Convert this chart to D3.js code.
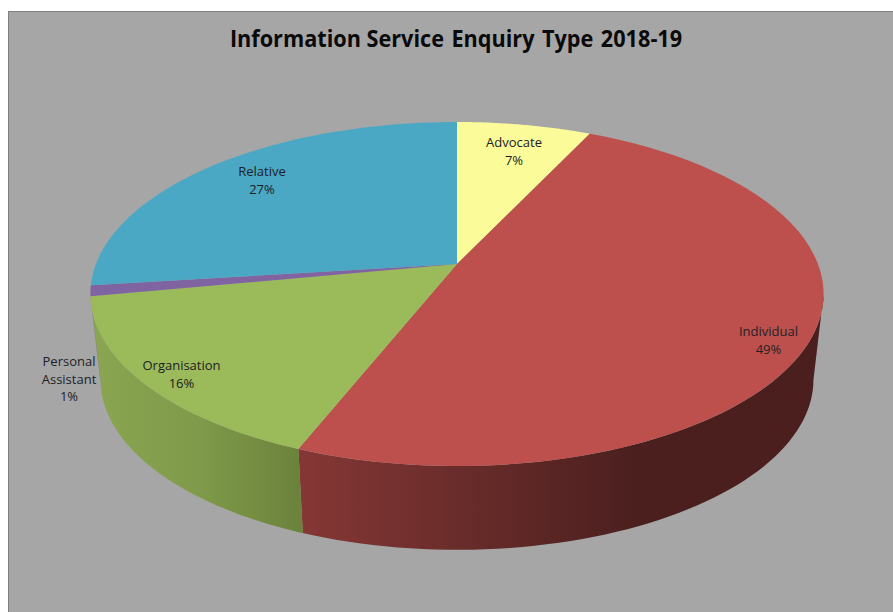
<!DOCTYPE html>
<html>
<head>
<meta charset="utf-8">
<script src="https://cdn.jsdelivr.net/npm/d3@7/dist/d3.min.js"></script>
<style>
  html, body { margin: 0; padding: 0; background: #ffffff; }
  svg { display: block; }
</style>
</head>
<body>
<svg id="chart" width="893" height="612"></svg>
<script>
// Enquiry shares for 2018-19, clockwise from twelve o'clock
const categories = ["Advocate", "Individual", "Organisation", "Personal Assistant", "Relative"];
const shares = [7, 49, 16, 1, 27];
const sliceColors = ["#fbfb99", "#bd504d", "#9bba59", "#8064a2", "#4aa8c4"];
const titleParts = ["Information ", "Service Enquiry Type 2018-19"];
const labelLines = [["Advocate", "7%"], ["Individual", "49%"], ["Organisation", "16%"], ["Personal", "Assistant", "1%"], ["Relative", "27%"]];
const labelAnchors = [[514, 147], [768.5, 336], [181.5, 370], [69, 366], [262, 176]];

const svg = d3.select("#chart");

svg.append("rect")
  .attr("x", 8.5).attr("y", 11.5).attr("width", 890).attr("height", 606)
  .attr("fill", "#a6a6a6").attr("stroke", "#7f7f7f").attr("stroke-width", 1);

// Perspective projection of a tilted disc: the far rim is foreshortened
const centerX = 457;
const tilt = 0.1744;
const topDisc = { y0: 264, a: 361, b: 166.8 };
const baseDisc = { y0: 350, a: 351, b: 165 };
const project = (disc, angle) => {
  const u = Math.sin(angle), v = Math.cos(angle), w = 1 + tilt * v;
  return [centerX + disc.a * u / w, disc.y0 - disc.b * v / w];
};

const pie = d3.pie().sort(null).value(d => d);
const slices = pie(shares);
const line = d3.line();
const rad = Math.PI / 180;
const stepped = (a0, a1) => d3.range(0, 61).map(i => a0 + (a1 - a0) * i / 60);

// Front wall, shaded from left to right
const defs = svg.append("defs");
const addShade = (id, stops) => {
  const g = defs.append("linearGradient").attr("id", id)
    .attr("gradientUnits", "userSpaceOnUse")
    .attr("x1", stops[0][0]).attr("x2", stops[stops.length - 1][0]).attr("y1", 0).attr("y2", 0);
  const span = stops[stops.length - 1][0] - stops[0][0];
  stops.forEach(s => g.append("stop").attr("offset", (s[0] - stops[0][0]) / span).attr("stop-color", s[1]));
};
addShade("wall-individual", [[300, "#853735"], [450, "#6b2d2b"], [640, "#4a1f1e"], [820, "#4a1f1e"]]);
addShade("wall-organisation", [[90, "#8aa651"], [200, "#7f9a4a"], [301, "#6b823b"]]);
const wallFill = { 1: "url(#wall-individual)", 2: "url(#wall-organisation)" };

// The wall is visible between the two rim points where the disc is widest
const wallFrom = Math.acos(-tilt), wallTo = 2 * Math.PI - wallFrom;
slices.forEach((s, i) => {
  const a0 = Math.max(s.startAngle, wallFrom), a1 = Math.min(s.endAngle, wallTo);
  if (a1 <= a0) return;
  const angles = stepped(a0, a1);
  const rim = angles.map(a => project(topDisc, a));
  const base = angles.slice().reverse().map(a => project(baseDisc, a));
  svg.append("path")
    .attr("d", line(rim.concat(base)) + "Z")
    .attr("fill", wallFill[i] || sliceColors[i]);
});

// Top face
slices.forEach((s, i) => {
  const rim = stepped(s.startAngle, s.endAngle).map(a => project(topDisc, a));
  svg.append("path")
    .attr("d", line([[centerX, topDisc.y0]].concat(rim)) + "Z")
    .attr("fill", sliceColors[i]);
});

// Data labels
const font = "'Open Sans', sans-serif";
labelLines.forEach((lines, i) => {
  const text = svg.append("text")
    .attr("text-anchor", "middle")
    .attr("font-family", font).attr("font-size", 13)
    .attr("fill", "#1c2226");
  lines.forEach((t, j) => {
    text.append("tspan").attr("x", labelAnchors[i][0]).attr("y", labelAnchors[i][1] + j * 17.5).text(t);
  });
});

// Title, condensed slightly to fit its measure
const title = svg.append("text")
  .attr("transform", "translate(456,47) scale(0.942,1)")
  .attr("text-anchor", "middle")
  .attr("font-family", font).attr("font-weight", 700).attr("font-size", 23)
  .attr("fill", "#0a0a0a")
  .attr("xml:space", "preserve")
  .style("white-space", "pre");
title.append("tspan").text(titleParts[0]);
title.append("tspan").attr("word-spacing", 2).text(titleParts[1]);
</script>
</body>
</html>
